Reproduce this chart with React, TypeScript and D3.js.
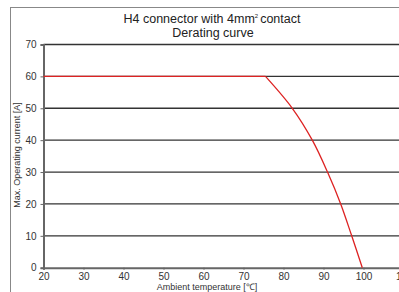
import React, { useRef, useEffect } from 'react';
import * as d3 from 'd3';

// curve
const temps = [20, 75.5, 82.2, 87.2, 91, 94.3, 97.05, 99.7];
const currents = [60, 60, 50, 40, 30, 20, 10, 0];
const xTicks = [20, 30, 40, 50, 60, 70, 80, 90, 100, 110];
const yTicks = [0, 10, 20, 30, 40, 50, 60, 70];
const titleLines = ['H4 connector with 4mm', 'Derating curve'];

const App = () => {
  const ref = useRef<SVGSVGElement>(null);

  useEffect(() => {
    const width = 399;
    const svg = d3.select(ref.current);
    svg.selectAll('*').remove();

    const x = d3.scaleLinear().domain([20, 110]).range([43.5, 403.5]);
    const y = d3.scaleLinear().domain([0, 70]).range([267.7, 44.5]);
    const font = 'Arial, "Liberation Sans", sans-serif';

    // outer frame
    svg.append('rect')
      .attr('x', 10.5).attr('y', 7.5)
      .attr('width', 500).attr('height', 400)
      .attr('fill', 'none').attr('stroke', '#888').attr('stroke-width', 1);

    // title
    const title = svg.append('text')
      .attr('x', 212).attr('y', 23)
      .attr('text-anchor', 'middle')
      .style('font-family', font).style('font-size', '12.5px').attr('fill', '#222');
    title.append('tspan').text(titleLines[0]);
    title.append('tspan').text('2').attr('dy', -5).style('font-size', '6px');
    title.append('tspan').text('contact').attr('dy', 5).attr('dx', 2);
    svg.append('text')
      .attr('x', 213).attr('y', 37)
      .attr('text-anchor', 'middle')
      .style('font-family', font).style('font-size', '12.5px').attr('fill', '#222')
      .text(titleLines[1]);

    // grid lines
    svg.selectAll('.grid')
      .data(yTicks.filter(d => d > 0))
      .enter()
      .append('line')
        .attr('x1', x(20)).attr('x2', width + 10)
        .attr('y1', d => y(d)).attr('y2', d => y(d))
        .attr('stroke', '#333').attr('stroke-width', 1.3);

    // y axis
    const yAxis = svg.append('g')
      .attr('transform', `translate(${x(20)},0)`)
      .call(d3.axisLeft(y).tickValues(yTicks).tickSize(3).tickPadding(4));
    yAxis.select('.domain').attr('stroke', '#666').attr('stroke-width', 2);
    yAxis.selectAll('.tick line').attr('stroke', '#666');
    yAxis.selectAll('text')
      .style('font-family', font).style('font-size', '10px').attr('fill', '#333');

    // x axis
    const xAxis = svg.append('g')
      .attr('transform', `translate(0,${y(0)})`)
      .call(d3.axisBottom(x).tickValues(xTicks).tickSize(2).tickPadding(3));
    xAxis.select('.domain').attr('stroke', '#666').attr('stroke-width', 2);
    xAxis.selectAll('.tick line').attr('stroke', '#666');
    xAxis.selectAll('text')
      .style('font-family', font).style('font-size', '10px').attr('fill', '#333');

    // axis titles
    svg.append('text')
      .attr('x', 207).attr('y', 289.5)
      .attr('text-anchor', 'middle')
      .style('font-family', font).style('font-size', '9px').attr('fill', '#333')
      .text('Ambient temperature [℃]');
    svg.append('text')
      .attr('transform', 'translate(20,155) rotate(-90)')
      .attr('text-anchor', 'middle')
      .style('font-family', font).style('font-size', '9px').attr('fill', '#333')
      .text('Max. Operating current [A]');

    // derating curve: flat part, then the falling branch
    const pts = temps.map((t, i) => [t, currents[i]] as [number, number]);
    const flat = d3.line<[number, number]>()
      .x(d => x(d[0])).y(d => y(d[1]));
    const fall = d3.line<[number, number]>()
      .x(d => x(d[0])).y(d => y(d[1]))
      .curve(d3.curveCatmullRom.alpha(0.5));
    svg.append('path')
      .attr('d', flat(pts.slice(0, 2)))
      .attr('fill', 'none').attr('stroke', '#dd2222').attr('stroke-width', 1.3);
    svg.append('path')
      .attr('d', fall(pts.slice(1)))
      .attr('fill', 'none').attr('stroke', '#dd2222').attr('stroke-width', 1.3);
  }, []);

  return (
    <svg ref={ref} width={399} height={292}
      style={{ position: 'absolute', left: 0, top: 0, background: '#fff' }} />
  );
};

export default App;
